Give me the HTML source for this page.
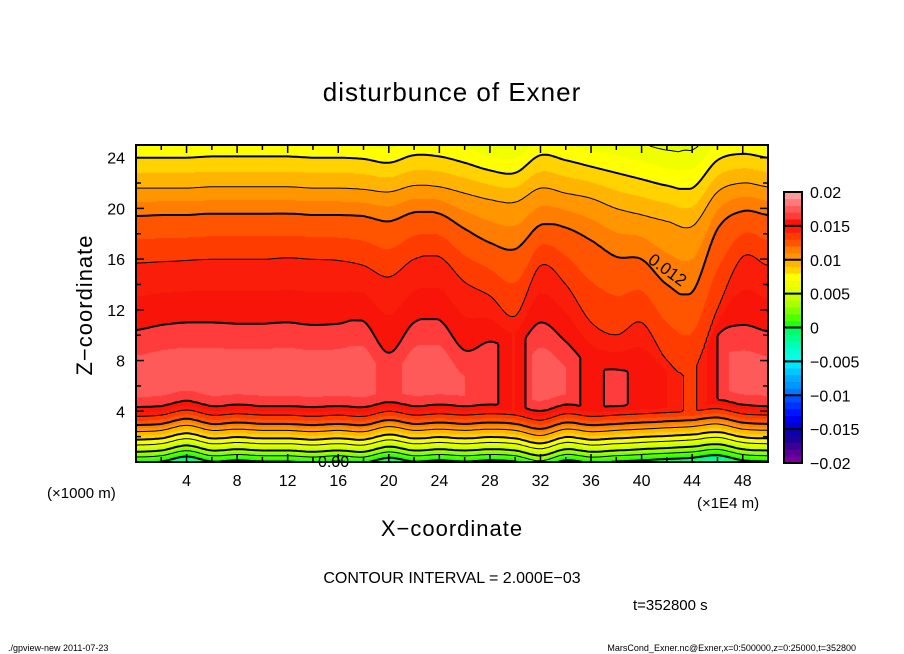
<!DOCTYPE html>
<html><head><meta charset="utf-8"><style>
html,body{margin:0;padding:0;background:#fff;}
#wrap{position:relative;width:904px;height:654px;overflow:hidden;background:#fff;font-family:"Liberation Sans",sans-serif;}
#fill{position:absolute;left:136px;top:145px;}
#ov{position:absolute;left:0;top:0;}
</style></head><body>
<div id="wrap">
<canvas id="fill" width="632" height="317"></canvas>
<svg id="ov" width="904" height="654" xmlns="http://www.w3.org/2000/svg">
<text x="452" y="101" text-anchor="middle" font-size="26" letter-spacing="1">disturbunce of Exner</text>
<text transform="translate(92,305) rotate(-90)" text-anchor="middle" font-size="22" letter-spacing="1">Z−coordinate</text>
<text x="452" y="536" text-anchor="middle" font-size="22" letter-spacing="1">X−coordinate</text>
<text x="47" y="498" font-size="15">(×1000 m)</text>
<text x="697" y="508" font-size="15">(×1E4 m)</text>
<text x="452" y="583" text-anchor="middle" font-size="16">CONTOUR INTERVAL = 2.000E−03</text>
<text x="633" y="610" font-size="15">t=352800 s</text>
<text x="8" y="651" font-size="9">./gpview-new   2011-07-23</text>
<text x="856" y="651" text-anchor="end" font-size="9">MarsCond_Exner.nc@Exner,x=0:500000,z=0:25000,t=352800</text>
<g id="contours"></g>
<g id="axes"></g>
<g id="cbar"></g>
<text transform="translate(647,262) rotate(36)" font-size="17">0.012</text>
<text x="318" y="467" font-size="16">0.00</text>
</svg>
</div>
<script>
// ---- data: columns at x = 0,2,4,...,50 (x1E4 m) ----
const xNodes = [0,2,4,6,8,10,12,14,16,18,20,22,24,26,28,30,32,34,36,38,40,42,44,46,48,50];
const coreVal = [0.0175,0.0178,0.0178,0.0178,0.0178,0.0178,0.0178,0.0178,0.0178,0.0178,0.0163,0.0178,0.0175,0.0170,0.0166,0.0150,0.0178,0.0170,0.0155,0.0165,0.0152,0.0150,0.0138,0.0160,0.0178,0.0172];
const h16 = [10.4,10.8,11.0,11.0,10.9,10.9,11.0,10.8,10.9,11.1,8.6,11.0,11.2,8.8,9.5,9.0,11.0,9.5,7.5,7.3,7.0,6.5,6.0,10.0,10.8,10.3];
const h14 = [15.7,15.8,15.9,16.0,16.0,16.0,16.1,16.0,15.9,15.5,14.6,16.0,16.2,14.2,13.1,11.5,15.5,14.0,11.0,10.0,11.0,8.0,7.0,12.0,16.2,15.5];
const h12 = [19.4,19.5,19.5,19.6,19.6,19.6,19.6,19.5,19.5,19.4,19.0,19.7,19.6,18.4,17.3,16.8,18.7,18.5,17.5,16.2,16.0,14.0,13.4,18.4,19.8,19.5];
const h10 = [21.6,21.6,21.6,21.7,21.7,21.7,21.7,21.6,21.6,21.5,21.3,21.8,21.7,21.2,20.7,20.5,21.6,21.2,20.8,20.0,19.5,19.0,18.6,21.3,22.0,21.7];
const h08 = [24.0,24.0,24.0,24.1,24.1,24.1,24.1,24.0,24.0,23.9,23.6,24.2,24.1,23.6,23.0,22.8,24.2,23.8,23.3,22.8,22.3,21.8,21.6,23.8,24.3,24.0];
const lowShift = [0,0.1,0.5,0.1,0.2,0.1,0.1,0,0.1,0,0.4,0.1,0.2,0.1,0.2,0.1,-0.3,0.2,0,0.1,0.2,0.3,0.4,0.6,0.2,0.1];
const lowZ = [0,0.4,0.8,1.35,1.75,2.4,2.9,3.6,4.3];
const lowV = [0.0004,0.002,0.004,0.006,0.008,0.010,0.012,0.014,0.016];
const levels = [0,0.002,0.004,0.006,0.008,0.010,0.012,0.014,0.016,0.018];
const cbarTicks = [0.02,0.015,0.01,0.005,0,-0.005,-0.01,-0.015,-0.02];
const cbarLabels = ["0.02","0.015","0.01","0.005","0","−0.005","−0.01","−0.015","−0.02"];
const xTickLabels = [4,8,12,16,20,24,28,32,36,40,44,48];
const yTickLabels = [4,8,12,16,20,24];

const colPos = {19:"#ff9a9a",18:"#ff7a7a",17:"#ff5a5a",16:"#ff3c3c",15:"#f81408",14:"#fa1e0a",13:"#ff3c00",12:"#ff5500",11:"#ff7d00",10:"#ff9600",9:"#ffb400",8:"#ffd200",7:"#ffff00",6:"#f0ff00",5:"#e0ff00",4:"#c8ff00",3:"#a8ff00",2:"#80ff00",1:"#50ff00",0:"#20ff10",
"-1":"#00ff64","-2":"#00ff8c","-3":"#00ffb4","-4":"#00ffd2","-5":"#00fff0","-6":"#00e6ff","-7":"#00c8ff","-8":"#00aaff","-9":"#0096ff","-10":"#0078ff","-11":"#0050ff","-12":"#0032ff","-13":"#0014ff","-14":"#0000f0","-15":"#0000d2","-16":"#0a00b4","-17":"#1e0096","-18":"#3c0096","-19":"#5a0096","-20":"#7800a0"};
function colorFor(v){let i=Math.floor(v/0.001+1e-9);if(i>19)i=19;if(i<-20)i=-20;return colPos[i];}

const X0=136,X1=768,Y0=462,Y1=145;
function X(x){return X0+x*(X1-X0)/50;}
function Y(z){return Y0-z*(Y0-Y1)/25;}
function at(arr,x){let j=x/2;if(j<0)j=0;if(j>25)j=25;const i=Math.min(24,Math.floor(j));const t=j-i;
  const p0=arr[Math.max(0,i-1)],p1=arr[i],p2=arr[i+1],p3=arr[Math.min(25,i+2)];
  const t2=t*t,t3=t2*t;
  let v=0.5*((2*p1)+(-p0+p2)*t+(2*p0-5*p1+4*p2-p3)*t2+(-p0+3*p1-3*p2+p3)*t3);
  const lo=Math.min(p1,p2),hi=Math.max(p1,p2);
  return Math.max(lo-(hi-lo)*0.3-0.0,Math.min(hi+(hi-lo)*0.3,v));}
function val(x,z){
  const ls=at(lowShift,x), c=at(coreVal,x);
  const zz=z-ls; let lo;
  if(zz<=lowZ[0]) lo=lowV[0]+(zz-lowZ[0])*0.006;
  else if(zz>=lowZ[8]) lo=0.016+(zz-4.3)*0.0012;
  else{for(let k=0;k<8;k++){if(zz<=lowZ[k+1]){const t=(zz-lowZ[k])/(lowZ[k+1]-lowZ[k]);lo=lowV[k]+t*(lowV[k+1]-lowV[k]);break;}}}
  const hz=[at(h16,x),at(h14,x),at(h12,x),at(h10,x),at(h08,x)], hv=[0.016,0.014,0.012,0.010,0.008];
  for(let k=1;k<5;k++) if(hz[k]<hz[k-1]+0.3) hz[k]=hz[k-1]+0.3;
  let up;
  if(z<=hz[0]) up=0.016+(hz[0]-z)*0.0005;
  else if(z>=hz[4]) up=0.008-(z-hz[4])*0.002/Math.max(0.5,hz[4]-hz[3]);
  else{for(let k=0;k<4;k++){if(z<=hz[k+1]){const t=(z-hz[k])/(hz[k+1]-hz[k]);up=hv[k]+t*(hv[k+1]-hv[k]);break;}}}
  return Math.min(lo,up,c);
}
function hexRGB(h){return [parseInt(h.substr(1,2),16),parseInt(h.substr(3,2),16),parseInt(h.substr(5,2),16)];}
// fill
const cv=document.getElementById('fill'),ctx=cv.getContext('2d');
const W=cv.width,H=cv.height,img=ctx.createImageData(W,H);
for(let py=0;py<H;py++){const z=(Y0-(py+Y1+0.5))*25/(Y0-Y1);
  for(let px=0;px<W;px++){const x=(px+0.5)*50/(X1-X0);const c=hexRGB(colorFor(val(x,z)));const o=(py*W+px)*4;img.data[o]=c[0];img.data[o+1]=c[1];img.data[o+2]=c[2];img.data[o+3]=255;}}
ctx.putImageData(img,0,0);
// contours (marching squares)
const NS="http://www.w3.org/2000/svg";
const S=2,nx=Math.floor((X1-X0)/S),ny=Math.floor((Y0-Y1)/S);
const G=[];for(let j=0;j<=ny;j++){G[j]=[];for(let i=0;i<=nx;i++){G[j][i]=val(i*S*50/(X1-X0),(j*S)*25/(Y0-Y1));}}
const cg=document.getElementById('contours');
levels.forEach(function(L){
  let d="";
  for(let j=0;j<ny;j++)for(let i=0;i<nx;i++){
    const a=G[j][i],b=G[j][i+1],c=G[j+1][i+1],e=G[j+1][i];
    const pts=[];
    const px0=X0+i*S,py0=Y0-j*S;
    function cr(v1,v2,x1,y1,x2,y2){if((v1<L)!==(v2<L)){const t=(L-v1)/(v2-v1);pts.push([x1+t*(x2-x1),y1+t*(y2-y1)]);}}
    cr(a,b,px0,py0,px0+S,py0);cr(b,c,px0+S,py0,px0+S,py0-S);cr(c,e,px0+S,py0-S,px0,py0-S);cr(e,a,px0,py0-S,px0,py0);
    for(let k=0;k+1<pts.length;k+=2)d+="M"+pts[k][0].toFixed(1)+" "+pts[k][1].toFixed(1)+"L"+pts[k+1][0].toFixed(1)+" "+pts[k+1][1].toFixed(1);
  }
  const p=document.createElementNS(NS,'path');
  p.setAttribute('d',d);p.setAttribute('fill','none');p.setAttribute('stroke','#000');
  p.setAttribute('stroke-width',(Math.round(L*1000)%4===0)?'2':'1');
  
  
  cg.appendChild(p);
});
// axes
const ag=document.getElementById('axes');
function line(g,x1,y1,x2,y2,w,name){const l=document.createElementNS(NS,'line');l.setAttribute('x1',x1);l.setAttribute('y1',y1);l.setAttribute('x2',x2);l.setAttribute('y2',y2);l.setAttribute('stroke','#000');l.setAttribute('stroke-width',w);
  
  
  g.appendChild(l);}
function text(g,x,y,s,anchor,size,name){const t=document.createElementNS(NS,'text');t.setAttribute('x',x);t.setAttribute('y',y);t.setAttribute('text-anchor',anchor);t.setAttribute('font-size',size);t.textContent=s;
  
  
  g.appendChild(t);}
const fr=document.createElementNS(NS,'rect');fr.setAttribute('x',X0);fr.setAttribute('y',Y1);fr.setAttribute('width',X1-X0);fr.setAttribute('height',Y0-Y1);fr.setAttribute('fill','none');fr.setAttribute('stroke','#000');fr.setAttribute('stroke-width','2');


ag.appendChild(fr);
for(let v=2;v<50;v+=2){const len=v%4===0?8:5;line(ag,X(v),Y0,X(v),Y0-len,1.5,'x-tick');line(ag,X(v),Y1,X(v),Y1+len,1.5,'x-tick-top');}
for(let v=2;v<25;v+=2){const len=v%4===0?8:5;line(ag,X0,Y(v),X0+len,Y(v),1.5,'y-tick');line(ag,X1,Y(v),X1-len,Y(v),1.5,'y-tick-right');}
xTickLabels.forEach(function(v){text(ag,X(v),486,String(v),'middle',16,'x-tick-label');});
yTickLabels.forEach(function(v){text(ag,125,Y(v)+6,String(v),'end',16,'y-tick-label');});
// colorbar
const bg=document.getElementById('cbar');
const CB0=463,CB1=192,CBX=784,CBW=18;
function CY(v){return CB0-(v+0.02)*(CB0-CB1)/0.04;}
for(let i=-20;i<20;i++){const r=document.createElementNS(NS,'rect');const v0=i*0.001;r.setAttribute('x',CBX);r.setAttribute('y',CY(v0+0.001));r.setAttribute('width',CBW);r.setAttribute('height',CY(v0)-CY(v0+0.001)+0.3);r.setAttribute('fill',colorFor(v0+0.0005));
  
  
  bg.appendChild(r);}
cbarTicks.forEach(function(v,k){line(bg,CBX,CY(v),CBX+CBW,CY(v),2,'colorbar-separator');text(bg,810,CY(v)+6,cbarLabels[k],'start',16,'colorbar-label');});
const cf=document.createElementNS(NS,'rect');cf.setAttribute('x',CBX);cf.setAttribute('y',CB1);cf.setAttribute('width',CBW);cf.setAttribute('height',CB0-CB1);cf.setAttribute('fill','none');cf.setAttribute('stroke','#000');cf.setAttribute('stroke-width','2');


bg.appendChild(cf);
</script>
</body></html>
